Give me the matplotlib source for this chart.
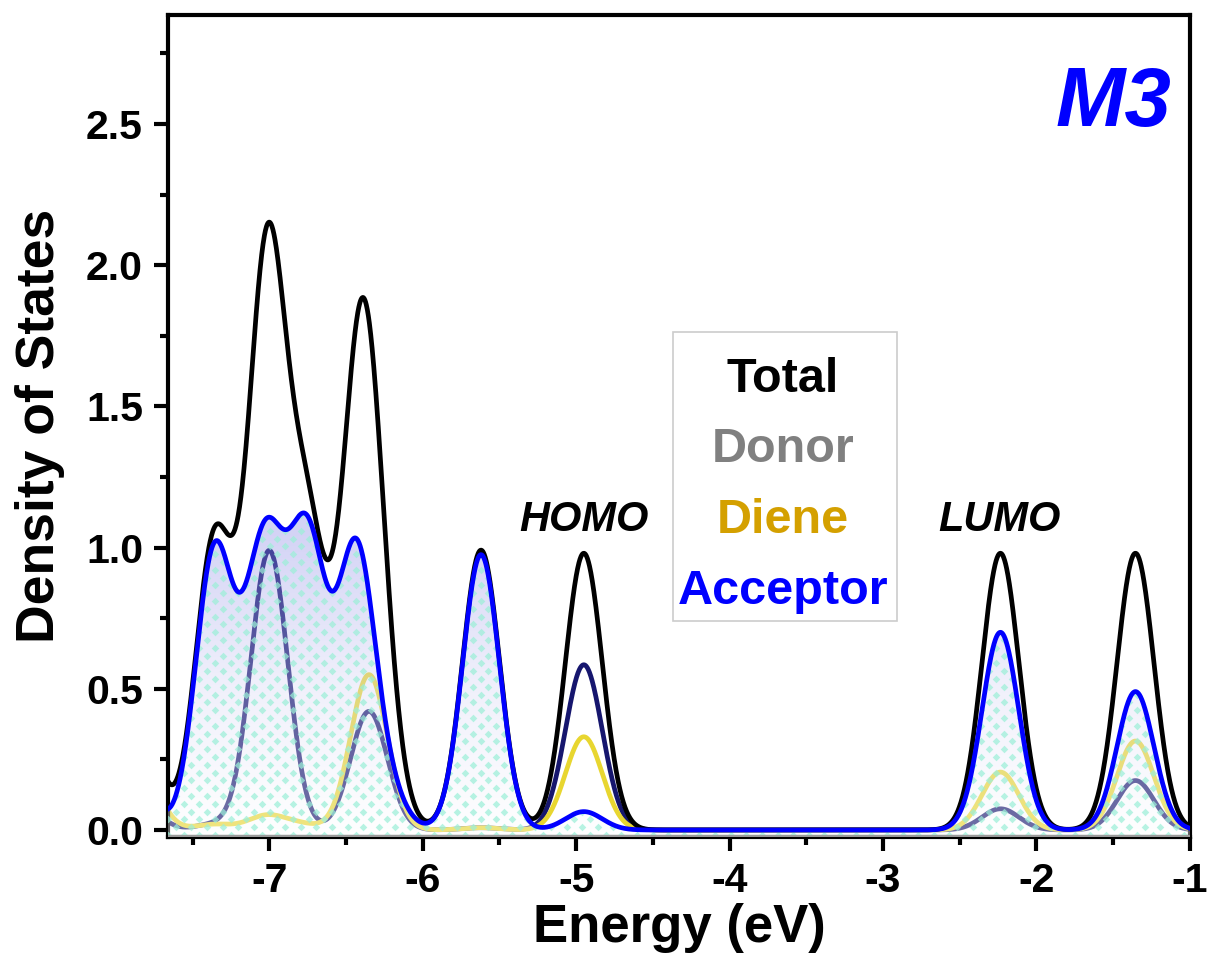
import numpy as np
import matplotlib
matplotlib.use("Agg")
import matplotlib.pyplot as plt
from matplotlib.patches import Polygon
from matplotlib.colors import LinearSegmentedColormap

# ---- orbital levels (eV) and their fragment weights ----
lev_E   = [-7.95, -7.85, -7.36, -7.163, -7.047, -7.02, -7.00, -6.981, -6.80, -6.762,
           -6.718, -6.434, -6.35, -6.234, -5.62, -4.95, -2.235, -1.355]
lev_don = [0.0, 0.10, 0.02, 0.0, 0.0, 0.0, 0.99, 0.0, 0.0, 0.0,
           0.0, 0.0, 0.42, 0.0, 0.008, 0.585, 0.075, 0.175]
lev_die = [0.0, 0.24, 0.02, 0.0, 0.0, 0.05, 0.0, 0.0, 0.02, 0.0,
           0.0, 0.0, 0.55, 0.0, 0.008, 0.33, 0.205, 0.315]
lev_acc = [0.59, 0.0, 0.964, 0.12, 0.57, 0.0, 0.0, 0.41, 0.0, 0.69,
           0.315, 0.969, 0.0, 0.114, 0.975, 0.065, 0.70, 0.49]
SIGMA = 0.12   # Gaussian broadening (eV)

series_labels = ['Total', 'Donor', 'Diene', 'Acceptor']
series_colors = ['black', '#808080', '#d4a000', '#0000ff']
x_ticks = [-7, -6, -5, -4, -3, -2, -1]
y_ticks = [0.0, 0.5, 1.0, 1.5, 2.0, 2.5]


def broaden(x, energies, weights, s):
    out = np.zeros_like(x)
    for e, w in zip(energies, weights):
        out += w * np.exp(-(x - e) ** 2 / (2 * s * s))
    return out


XL = (-7.66, -1.0)
YL = (-0.025, 2.886)
x = np.linspace(XL[0], XL[1], 3000)
don = broaden(x, lev_E, lev_don, SIGMA)
die = broaden(x, lev_E, lev_die, SIGMA)
acc = broaden(x, lev_E, lev_acc, SIGMA)
tot = don + die + acc

plt.rcParams['font.family'] = ['Liberation Sans', 'DejaVu Sans']
fig = plt.figure(figsize=(12.12, 9.61), dpi=100)
ax = fig.add_axes([0.1386, 0.1290, 0.8432, 0.8554])
ax.set_xlim(*XL)
ax.set_ylim(*YL)

LW = 3.4
# fragment lines drawn below the acceptor fill
ax.plot(x, don, color='#16166e', lw=LW, zorder=2)
ax.plot(x, die, color='#e8d630', lw=LW, zorder=2)

# acceptor fill: lavender gradient + mint diamond pattern
poly = Polygon(np.column_stack([np.r_[x[0], x, x[-1]], np.r_[YL[0], acc, YL[0]]]),
               closed=True, facecolor='none', edgecolor='none', transform=ax.transData)
ax.add_patch(poly)
cmap = LinearSegmentedColormap.from_list('lav', ['#ffffff', '#d8d8f6', '#8c8ce6'])
grad = np.linspace(0, 1, 256)[:, None] * np.ones((1, 2))
im = ax.imshow(grad, extent=[XL[0], XL[1], YL[0], 1.05], origin='lower', aspect='auto',
               cmap=cmap, alpha=0.38, zorder=3)
im.set_clip_path(poly)
im2 = ax.imshow(np.ones((2, 2)), extent=[XL[0], XL[1], 1.05, YL[1]], origin='lower',
                aspect='auto', cmap=LinearSegmentedColormap.from_list('c', ['#8c8ce6', '#8c8ce6']),
                alpha=0.38, zorder=3)
im2.set_clip_path(poly)
px_x = (XL[1] - XL[0]) / 1020.0
px_y = (YL[1] - YL[0]) / 822.0
gx, gy = [], []
for j, yy in enumerate(np.arange(YL[0] + 2 * px_y, 1.3, 7.8 * px_y)):
    off = 7.8 * px_x if j % 2 else 0.0
    for xx in np.arange(XL[0] + off, XL[1], 15.6 * px_x):
        gx.append(xx)
        gy.append(yy)
sc = ax.scatter(gx, gy, marker='D', s=15, color='#9cefd8', alpha=0.72, linewidths=0, zorder=3.5)
sc.set_clip_path(poly)
ax.axhline(YL[0] + 1.5 * px_y, color='#9a9a9a', lw=1.6, zorder=3.6)

ax.plot(x, tot, color='black', lw=LW, zorder=5)
ax.plot(x, acc, color='#0000ff', lw=LW, zorder=6)

for sp in ax.spines.values():
    sp.set_linewidth(3.0)
ax.tick_params(axis='both', which='both', direction='out', width=3.0, top=False, right=False)
ax.tick_params(which='major', length=10, labelsize=29.5, pad=8)
ax.tick_params(which='minor', length=6)
ax.set_xticks(x_ticks)
ax.set_xticks(np.arange(-7.5, -0.9, 0.5), minor=True)
ax.set_yticks(y_ticks)
ax.set_yticks(np.arange(0, 2.9, 0.25), minor=True)
ax.set_xticklabels([f"{v:d}" for v in x_ticks])
ax.set_yticklabels([f"{v:.1f}" for v in y_ticks])
for lab in ax.get_xticklabels() + ax.get_yticklabels():
    lab.set_fontweight('bold')
ax.set_xlabel('Energy (eV)', fontsize=38, fontweight='bold', labelpad=2)
ax.set_ylabel('Density of States', fontsize=38.5, fontweight='bold', labelpad=15)

ax.text(-4.95, 1.06, 'HOMO', fontsize=30, fontweight='bold', style='italic',
        ha='center', va='baseline', zorder=8)
ax.text(-2.24, 1.06, 'LUMO', fontsize=30, fontweight='bold', style='italic',
        ha='center', va='baseline', zorder=8)
ax.text(0.982, 0.865, 'M3', transform=ax.transAxes, fontsize=60, fontweight='bold',
        style='italic', color='#0000ff', ha='right', va='baseline')

# legend box with coloured labels
lx0, lx1 = (672 - 168) / 1020, (896 - 168) / 1020
ly0, ly1 = (837 - 621) / 822, (837 - 332) / 822
ax.add_patch(plt.Rectangle((lx0, ly0), lx1 - lx0, ly1 - ly0, transform=ax.transAxes,
                           facecolor='white', edgecolor='#cccccc', lw=1.2, zorder=9))
for lab, col, ypx in zip(series_labels, series_colors, [392, 462, 533, 604]):
    ax.text((782 - 168) / 1020, (837 - ypx) / 822, lab, transform=ax.transAxes, color=col,
            fontsize=35, fontweight='bold', ha='center', va='baseline', zorder=10)

fig.savefig('out.png', dpi=100)
